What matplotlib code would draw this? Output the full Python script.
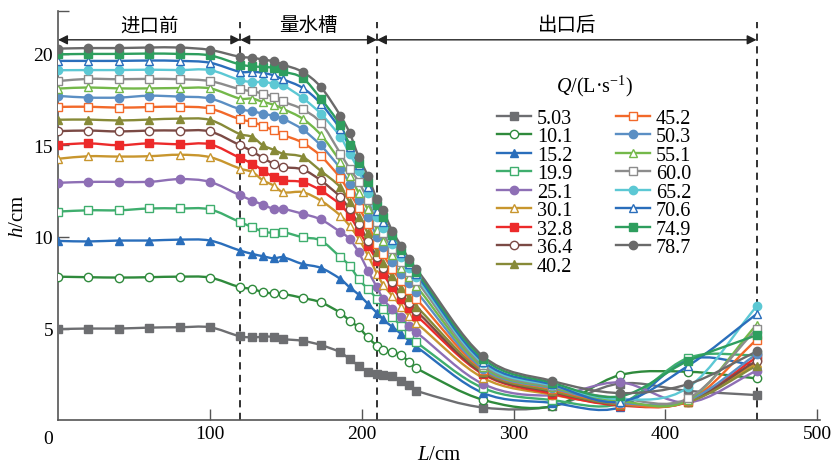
import numpy as np
import matplotlib.pyplot as plt
from matplotlib.path import Path
from matplotlib.patches import PathPatch
from matplotlib.lines import Line2D
from matplotlib.transforms import ScaledTranslation

plt.rcParams['font.family'] = ['Liberation Serif', 'Noto Sans CJK SC', 'DejaVu Sans']
plt.rcParams['mathtext.fontset'] = 'custom'
plt.rcParams['mathtext.rm'] = 'Liberation Serif'
plt.rcParams['mathtext.it'] = 'Liberation Serif:italic'

# measuring points along the channel, cm
L = [0, 20, 40, 60, 80, 100, 120, 128, 135, 142, 148, 161, 173, 186, 192, 198,
     204, 210, 214, 220, 226, 231, 236, 280, 325, 370, 415, 460]

labels = ['5.03', '10.1', '15.2', '19.9', '25.1', '30.1', '32.8', '36.4', '40.2',
          '45.2', '50.3', '55.1', '60.0', '65.2', '70.6', '74.9', '78.7']

h_503 = [4.97, 5.0, 5.0, 5.05, 5.07, 5.07, 4.57, 4.52, 4.55, 4.55, 4.43, 4.33, 4.1, 3.7, 3.33,
         2.97, 2.64, 2.51, 2.46, 2.42, 2.15, 1.9, 1.6, 0.69, 0.75, 2.0, 1.6, 1.37]
h_101 = [7.83, 7.8, 7.78, 7.8, 7.83, 7.78, 7.25, 7.16, 6.98, 6.92, 6.89, 6.67, 6.43, 5.85, 5.43,
         5.06, 4.52, 4.06, 3.84, 3.7, 3.55, 3.19, 2.83, 1.11, 0.75, 2.46, 2.64, 2.28]
h_152 = [9.78, 9.75, 9.8, 9.8, 9.85, 9.8, 9.25, 9.07, 8.94, 8.83, 8.89, 8.52, 8.31, 7.7, 7.25,
         6.85, 6.35, 5.85, 5.5, 5.1, 4.7, 4.35, 4.0, 1.48, 0.95, 0.7, 3.3, 3.0]
h_199 = [11.38, 11.45, 11.45, 11.55, 11.55, 11.5, 10.8, 10.53, 10.29, 10.22, 10.26, 9.98, 9.8, 8.89, 8.43,
         7.7, 7.16, 6.61, 6.07, 5.61, 5.15, 4.7, 4.25, 1.75, 1.1, 0.9, 3.4, 3.55]
h_251 = [12.95, 13.0, 13.0, 13.0, 13.15, 13.0, 12.26, 11.98, 11.75, 11.53, 11.53, 11.26, 10.95, 10.26, 9.89,
         9.16, 8.16, 7.25, 6.61, 6.07, 5.61, 5.15, 4.79, 1.97, 1.35, 2.06, 0.97, 2.7]
h_301 = [14.26, 14.4, 14.38, 14.4, 14.48, 14.35, 13.72, 13.53, 13.08, 12.8, 12.44, 12.44, 11.98, 11.16, 10.6,
         9.9, 9.0, 8.0, 7.4, 6.8, 6.2, 5.7, 5.3, 2.3, 1.4, 0.85, 1.0, 3.1]
h_328 = [15.03, 15.1, 15.0, 15.1, 15.05, 15.05, 14.3, 13.99, 13.62, 13.26, 13.08, 12.99, 12.53, 11.75, 11.16,
         10.34, 9.52, 8.7, 8.0, 7.25, 6.6, 6.1, 5.7, 2.5, 1.45, 0.8, 1.0, 3.43]
h_364 = [15.77, 15.8, 15.75, 15.8, 15.8, 15.75, 14.99, 14.66, 14.3, 13.99, 13.81, 13.68, 13.08, 12.17, 11.5,
         10.7, 9.8, 8.9, 8.3, 7.55, 6.9, 6.4, 5.95, 2.55, 1.55, 0.85, 1.05, 3.24]
h_402 = [16.39, 16.4, 16.35, 16.4, 16.45, 16.38, 15.6, 15.45, 14.99, 14.75, 14.54, 14.36, 13.6, 12.7, 11.9,
         11.1, 10.2, 9.2, 8.6, 7.85, 7.2, 6.7, 6.2, 2.65, 1.6, 0.85, 1.0, 2.97]
h_452 = [17.09, 17.1, 17.05, 17.08, 17.1, 17.0, 16.41, 16.27, 16.05, 15.81, 15.57, 15.14, 14.41, 13.2, 12.4,
         11.6, 10.7, 9.6, 9.05, 8.25, 7.6, 7.1, 6.6, 2.75, 1.7, 0.9, 1.05, 4.39]
h_503b = [17.69, 17.6, 17.6, 17.7, 17.65, 17.55, 16.96, 16.85, 16.72, 16.6, 16.45, 15.86, 14.99, 13.72, 12.9,
          12.0, 11.1, 10.0, 9.45, 8.65, 8.0, 7.5, 7.0, 2.8, 1.75, 0.95, 1.1, 3.6]
h_551 = [18.09, 18.15, 18.1, 18.1, 18.12, 18.1, 17.54, 17.54, 17.36, 17.21, 16.99, 16.45, 15.57, 14.1, 13.3,
         12.4, 11.5, 10.4, 9.8, 9.0, 8.3, 7.8, 7.3, 2.9, 1.8, 1.05, 1.1, 5.2]
h_600 = [18.5, 18.62, 18.6, 18.62, 18.6, 18.5, 18.05, 17.94, 17.81, 17.63, 17.39, 16.96, 16.23, 14.54, 13.72,
         13.0, 12.0, 10.8, 10.2, 9.35, 8.65, 8.1, 7.6, 3.0, 1.85, 1.2, 1.19, 4.97]
h_652 = [19.09, 19.1, 19.1, 19.12, 19.1, 19.1, 18.54, 18.45, 18.45, 18.36, 18.27, 17.58, 16.72, 15.45, 14.54,
         13.62, 12.4, 11.1, 10.5, 9.6, 8.9, 8.3, 7.8, 3.1, 1.9, 1.15, 1.79, 6.21]
h_706 = [19.6, 19.6, 19.6, 19.62, 19.6, 19.5, 19.0, 19.0, 18.95, 18.81, 18.6, 18.13, 17.27, 15.86, 14.9,
         13.9, 12.7, 11.4, 10.8, 9.85, 9.1, 8.5, 7.95, 3.2, 1.95, 1.0, 2.97, 5.79]
h_749 = [19.96, 19.98, 19.98, 20.0, 19.98, 19.9, 19.4, 19.3, 19.27, 19.22, 19.03, 18.67, 17.54, 16.08, 15.03,
         14.04, 12.99, 11.75, 11.1, 10.1, 9.3, 8.65, 8.1, 3.35, 2.05, 1.3, 3.24, 4.64]
h_787 = [20.27, 20.3, 20.3, 20.33, 20.33, 20.2, 19.82, 19.77, 19.67, 19.58, 19.4, 19.0, 18.18, 16.6, 15.67,
         14.36, 13.32, 12.04, 11.44, 10.34, 9.5, 8.8, 8.25, 3.48, 2.15, 1.48, 1.97, 3.75]

series = [h_503, h_101, h_152, h_199, h_251, h_301, h_328, h_364, h_402,
          h_452, h_503b, h_551, h_600, h_652, h_706, h_749, h_787]

colors = ['#6d6e71', '#2f8a3c', '#2a6ebb', '#3fae6e', '#8e6fb5', '#c8962e', '#ec2a2a', '#7b4a45', '#878a38',
          '#f2692a', '#5b8fc4', '#74b84a', '#8c8c8c', '#5cc8d4', '#2a6ebb', '#2e9e5e', '#6a6a6a']
markers = ['s', 'o', '^', 's', 'o', '^', 's', 'o', '^', 's', 'o', '^', 's', 'o', '^', 's', 'o']
hollow = [False, True, False, True, False, True, False, True, False,
          True, False, True, True, False, True, False, False]


def smooth(x, y):
    # cubic curve through the points (cardinal slopes), drawn as bezier path
    x = np.asarray(x, float)
    y = np.asarray(y, float)
    n = len(x)
    m = np.zeros(n)
    m[0] = (y[1] - y[0]) / (x[1] - x[0])
    m[-1] = (y[-1] - y[-2]) / (x[-1] - x[-2])
    for i in range(1, n - 1):
        m[i] = (y[i + 1] - y[i - 1]) / (x[i + 1] - x[i - 1])
    verts = [(x[0], y[0])]
    codes = [Path.MOVETO]
    for i in range(n - 1):
        d = (x[i + 1] - x[i]) / 3
        verts += [(x[i] + d, y[i] + m[i] * d), (x[i + 1] - d, y[i + 1] - m[i + 1] * d), (x[i + 1], y[i + 1])]
        codes += [Path.CURVE4] * 3
    return Path(verts, codes)


fig = plt.figure(figsize=(8.35, 4.77), dpi=100)
ax = fig.add_axes([0.0695, 0.117, 0.913, 0.857])

handles = []
for ys, c, mk, ho, lab in zip(series, colors, markers, hollow, labels):
    fc = 'white' if ho else c
    ax.add_patch(PathPatch(smooth(L, ys), fill=False, edgecolor=c, lw=1.7, zorder=2))
    ax.plot(L, ys, ls='none', marker=mk, ms=6, mfc=fc, mec=c, mew=1.0, zorder=3)
    handles.append(Line2D([], [], color=c, lw=1.7, marker=mk, ms=6, mfc=fc, mec=c, mew=1.0, label=lab))

# section boundaries and labels
for xb in [120, 210, 460]:
    ax.plot([xb, xb], [0, 21.7], ls=(0, (4, 3)), color='#222222', lw=1.3, zorder=1)
sections = [(0, 120, '进口前'), (120, 210, '量水槽'), (210, 460, '出口后')]
for a, b, name in sections:
    ax.annotate('', xy=(a, 20.75), xytext=(b, 20.75),
                arrowprops=dict(arrowstyle='<|-|>', color='#222222', lw=1.0,
                                mutation_scale=14, shrinkA=0, shrinkB=0))
    ax.text((a + b) / 2, 21.0, name, ha='center', va='bottom', fontsize=14,
            family=['Noto Sans CJK SC', 'DejaVu Sans'])

ax.set_xlim(0, 502)
ax.set_ylim(0, 22.3)
ax.set_xticks([100, 200, 300, 400, 500])
ax.set_yticks([5, 10, 15, 20])
ax.set_yticks([22.3], minor=True)
ax.tick_params(direction='in', length=8, width=1.0, labelsize=14, color='#555555')
ax.tick_params(which='minor', direction='in', length=8, width=1.0, color='#555555')
ax.text(0, 0, '0', fontsize=14, ha='right', va='top',
        transform=ax.transData + ScaledTranslation(-0.05, -0.1, fig.dpi_scale_trans))
for s in ['top', 'right']:
    ax.spines[s].set_visible(False)
for s in ['left', 'bottom']:
    ax.spines[s].set_color('#555555')
    ax.spines[s].set_linewidth(1.2)

ax.set_xlabel('$L$/cm', fontsize=15, labelpad=2)
ax.set_ylabel('$h$/cm', fontsize=15, labelpad=4)

leg = ax.legend(handles=handles, ncol=2, loc='upper left', bbox_to_anchor=(0.557, 0.885),
                frameon=False, fontsize=14.5, title='$Q$/(L·s$^{-1}$)', title_fontsize=14.5,
                handlelength=1.7, handletextpad=0.3, columnspacing=2.15, labelspacing=-0.03,
                borderpad=0.2)
leg._legend_box.sep = 8

fig.savefig('out.png', dpi=100)
